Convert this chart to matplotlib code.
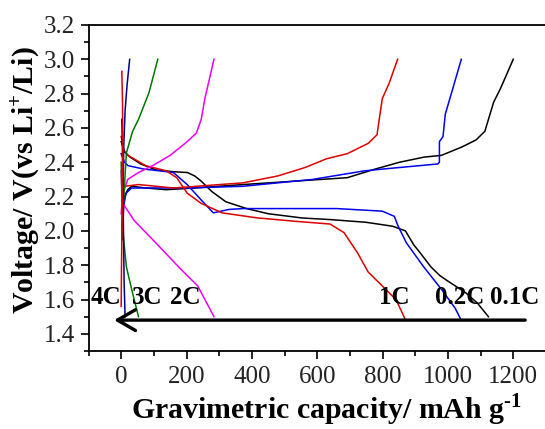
import matplotlib
matplotlib.use('Agg')
import matplotlib.pyplot as plt

plt.rcParams['font.family'] = ['Liberation Serif', 'DejaVu Serif']
plt.rcParams['mathtext.fontset'] = 'custom'
plt.rcParams['mathtext.rm'] = 'Liberation Serif:bold'
plt.rcParams['mathtext.bf'] = 'Liberation Serif:bold'

# 0.1C (black)
c01_dis_x = [0, 10, 27, 60, 107, 160, 203, 225, 245, 277, 320, 384, 450, 555, 639, 750, 831, 870, 895, 920, 948, 975, 1001, 1030, 1054, 1090, 1124]
c01_dis_y = [2.52, 2.46, 2.43, 2.39, 2.355, 2.345, 2.34, 2.32, 2.29, 2.23, 2.17, 2.13, 2.10, 2.075, 2.066, 2.05, 2.027, 2.0, 1.92, 1.86, 1.79, 1.74, 1.706, 1.67, 1.64, 1.58, 1.50]
c01_chg_x = [3, 6, 10, 20, 32, 75, 138, 224, 373, 532, 692, 777, 852, 927, 980, 1044, 1086, 1113, 1140, 1161, 1200]
c01_chg_y = [1.95, 2.12, 2.2, 2.24, 2.26, 2.25, 2.24, 2.25, 2.27, 2.29, 2.31, 2.36, 2.40, 2.43, 2.44, 2.49, 2.53, 2.58, 2.75, 2.83, 3.0]

# 0.2C (blue)
c02_dis_x = [0, 10, 21, 70, 117, 160, 202, 245, 282, 330, 373, 500, 660, 799, 836, 847, 873, 926, 980, 1022, 1038]
c02_dis_y = [2.45, 2.40, 2.38, 2.36, 2.35, 2.34, 2.27, 2.18, 2.105, 2.125, 2.13, 2.13, 2.13, 2.115, 2.085, 2.03, 1.93, 1.79, 1.66, 1.55, 1.49]
c02_chg_x = [3, 8, 15, 32, 202, 373, 586, 745, 799, 969, 974, 974, 985, 992, 1012, 1041]
c02_chg_y = [1.95, 2.15, 2.22, 2.25, 2.25, 2.26, 2.30, 2.35, 2.36, 2.39, 2.40, 2.52, 2.55, 2.68, 2.81, 3.0]

# 1C (red)
c1_dis_x = [0, 8, 21, 75, 138, 170, 202, 245, 309, 415, 532, 639, 682, 724, 756, 788, 841, 868]
c1_dis_y = [2.55, 2.47, 2.44, 2.38, 2.35, 2.31, 2.22, 2.16, 2.105, 2.076, 2.056, 2.04, 1.99, 1.87, 1.76, 1.70, 1.60, 1.49]
c1_chg_x = [2, 5, 11, 53, 160, 373, 479, 564, 628, 692, 756, 783, 799, 820, 846]
c1_chg_y = [2.0, 2.18, 2.26, 2.27, 2.25, 2.28, 2.32, 2.37, 2.42, 2.45, 2.51, 2.56, 2.77, 2.86, 3.0]

# 2C (magenta)
c2_dis_x = [0, 2, 5, 40, 96, 181, 234, 284]
c2_dis_y = [2.35, 2.25, 2.16, 2.06, 1.95, 1.78, 1.68, 1.50]
c2_chg_x = [0, 5, 20, 53, 96, 150, 202, 230, 245, 256, 284]
c2_chg_y = [2.10, 2.22, 2.30, 2.34, 2.38, 2.44, 2.52, 2.57, 2.65, 2.77, 3.0]

# 3C (green)
c3_dis_x = [0, 2, 5, 16, 32, 53]
c3_dis_y = [2.40, 2.2, 2.0, 1.79, 1.66, 1.50]
c3_chg_x = [2, 8, 16, 35, 53, 85, 112]
c3_chg_y = [1.95, 2.2, 2.455, 2.58, 2.65, 2.805, 3.0]

# 4C (navy / red)
c4_dis_x = [2, 4, 5, 7, 9, 12]
c4_dis_y = [2.65, 2.45, 2.3, 2.0, 1.7, 1.50]
c4_chg_x = [5, 8, 12, 18, 26]
c4_chg_y = [2.2, 2.5, 2.7, 2.85, 3.0]
c4b_x = [0, 1, 3, 4, 5, 4, 2]
c4b_y = [1.56, 1.8, 2.1, 2.3, 2.5, 2.75, 2.93]

rate_labels = ['4C', '3C', '2C', '1C', '0.2C', '0.1C']
rate_label_x = [-45, 80, 195, 836, 1036, 1203]

fig = plt.figure(figsize=(5.45, 4.29), dpi=100)
ax = fig.add_axes([0.1624, 0.1818, 0.8393, 0.760])

lw = 1.1
ax.plot(c01_dis_x, c01_dis_y, color='black', lw=lw)
ax.plot(c01_chg_x, c01_chg_y, color='black', lw=lw)
ax.plot(c02_dis_x, c02_dis_y, color='#0000ee', lw=lw)
ax.plot(c02_chg_x, c02_chg_y, color='#0000ee', lw=lw)
ax.plot(c1_dis_x, c1_dis_y, color='#dd0000', lw=lw)
ax.plot(c1_chg_x, c1_chg_y, color='#dd0000', lw=lw)
ax.plot(c2_dis_x, c2_dis_y, color='#ee00ee', lw=lw)
ax.plot(c2_chg_x, c2_chg_y, color='#ee00ee', lw=lw)
ax.plot(c3_dis_x, c3_dis_y, color='#007700', lw=lw)
ax.plot(c3_chg_x, c3_chg_y, color='#007700', lw=lw)
ax.plot(c4_dis_x, c4_dis_y, color='#000088', lw=lw)
ax.plot(c4_chg_x, c4_chg_y, color='#000088', lw=lw)
ax.plot(c4b_x, c4b_y, color='#dd0000', lw=lw)

for lab, x in zip(rate_labels, rate_label_x):
    ax.text(x, 1.61, lab, ha='center', va='center', fontsize=18, fontweight='bold')

ax.annotate('', xy=(-30, 1.48), xytext=(1245, 1.48),
            arrowprops=dict(arrowstyle='->,head_length=1.3,head_width=0.75', lw=2.4, color='black'))

ax.set_xlim(-100, 1300)
ax.set_ylim(1.3, 3.2)
ax.set_xticks(range(0, 1201, 200))
ax.set_xticks(range(-100, 1301, 100), minor=True)
ax.set_yticks([1.4 + 0.2 * i for i in range(10)])
ax.set_yticks([1.3 + 0.1 * i for i in range(20)], minor=True)
ax.set_yticklabels(['%.1f' % (1.4 + 0.2 * i) for i in range(10)])
ax.spines['right'].set_visible(False)
for s in ['left', 'bottom', 'top']:
    ax.spines[s].set_linewidth(1.3)
ax.tick_params(which='major', direction='out', length=6, width=1.2, labelsize=18, labelcolor='#222222')
ax.tick_params(which='minor', direction='out', length=3.5, width=1.2)
ax.tick_params(axis='x', top=False, pad=5)

fig.text(0.60, 0.045, r'Gravimetric capacity/ mAh g$^{\text{-1}}$', ha='center', va='center',
         fontsize=21.5, fontweight='bold')
fig.text(0.046, 0.58, r'Voltage/ V(vs Li$^{+}$/Li)', ha='center', va='center',
         rotation=90, fontsize=21.5, fontweight='bold')

fig.savefig('out.png', dpi=100)
